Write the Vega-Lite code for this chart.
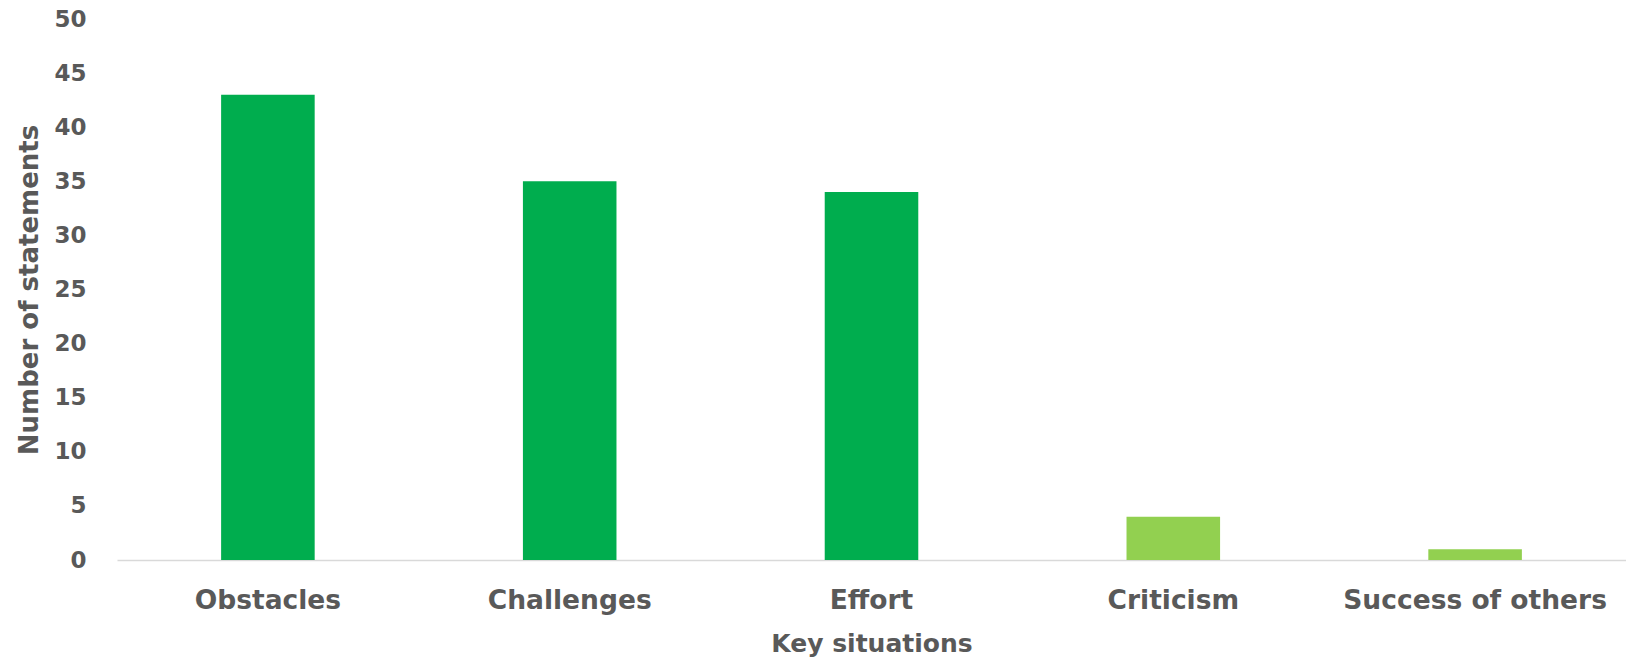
{
  "$schema": "https://vega.github.io/schema/vega-lite/v6.json",
  "autosize": "none",
  "width": 1509,
  "height": 541,
  "padding": {"left": 117, "top": 19, "right": 0, "bottom": 103},
  "background": "white",
  "data": {
    "values": [
      {"situation": "Obstacles", "count": 43, "group": "main"},
      {"situation": "Challenges", "count": 35, "group": "main"},
      {"situation": "Effort", "count": 34, "group": "main"},
      {"situation": "Criticism", "count": 4, "group": "minor"},
      {"situation": "Success of others", "count": 1, "group": "minor"}
    ]
  },
  "mark": {"type": "bar"},
  "encoding": {
    "x": {
      "field": "situation",
      "type": "nominal",
      "sort": null,
      "scale": {"paddingInner": 0.69, "paddingOuter": 0.345},
      "axis": {
        "title": "Key situations",
        "labelAngle": 0,
        "labelLimit": 0,
        "labelOverlap": false,
        "ticks": false,
        "domainColor": "#D9D9D9",
        "domainWidth": 1.5,
        "labelFont": "DejaVu Sans",
        "labelFontWeight": "bold",
        "labelFontSize": 26.5,
        "labelColor": "#595959",
        "labelPadding": 27,
        "titleFont": "DejaVu Sans",
        "titleFontWeight": "bold",
        "titleFontSize": 25,
        "titleColor": "#595959",
        "titlePadding": 18
      }
    },
    "y": {
      "field": "count",
      "type": "quantitative",
      "scale": {"domain": [0, 50]},
      "axis": {
        "title": "Number of statements",
        "values": [0, 5, 10, 15, 20, 25, 30, 35, 40, 45, 50],
        "grid": false,
        "domain": false,
        "ticks": false,
        "labelFont": "DejaVu Sans",
        "labelFontWeight": "bold",
        "labelFontSize": 23,
        "labelColor": "#595959",
        "labelPadding": 31,
        "titleFont": "DejaVu Sans",
        "titleFontWeight": "bold",
        "titleFontSize": 26,
        "titleColor": "#595959",
        "titlePadding": 11
      }
    },
    "color": {
      "field": "group",
      "type": "nominal",
      "scale": {"domain": ["main", "minor"], "range": ["#00AD4E", "#92D050"]},
      "legend": null
    }
  },
  "config": {"view": {"stroke": null}}
}
